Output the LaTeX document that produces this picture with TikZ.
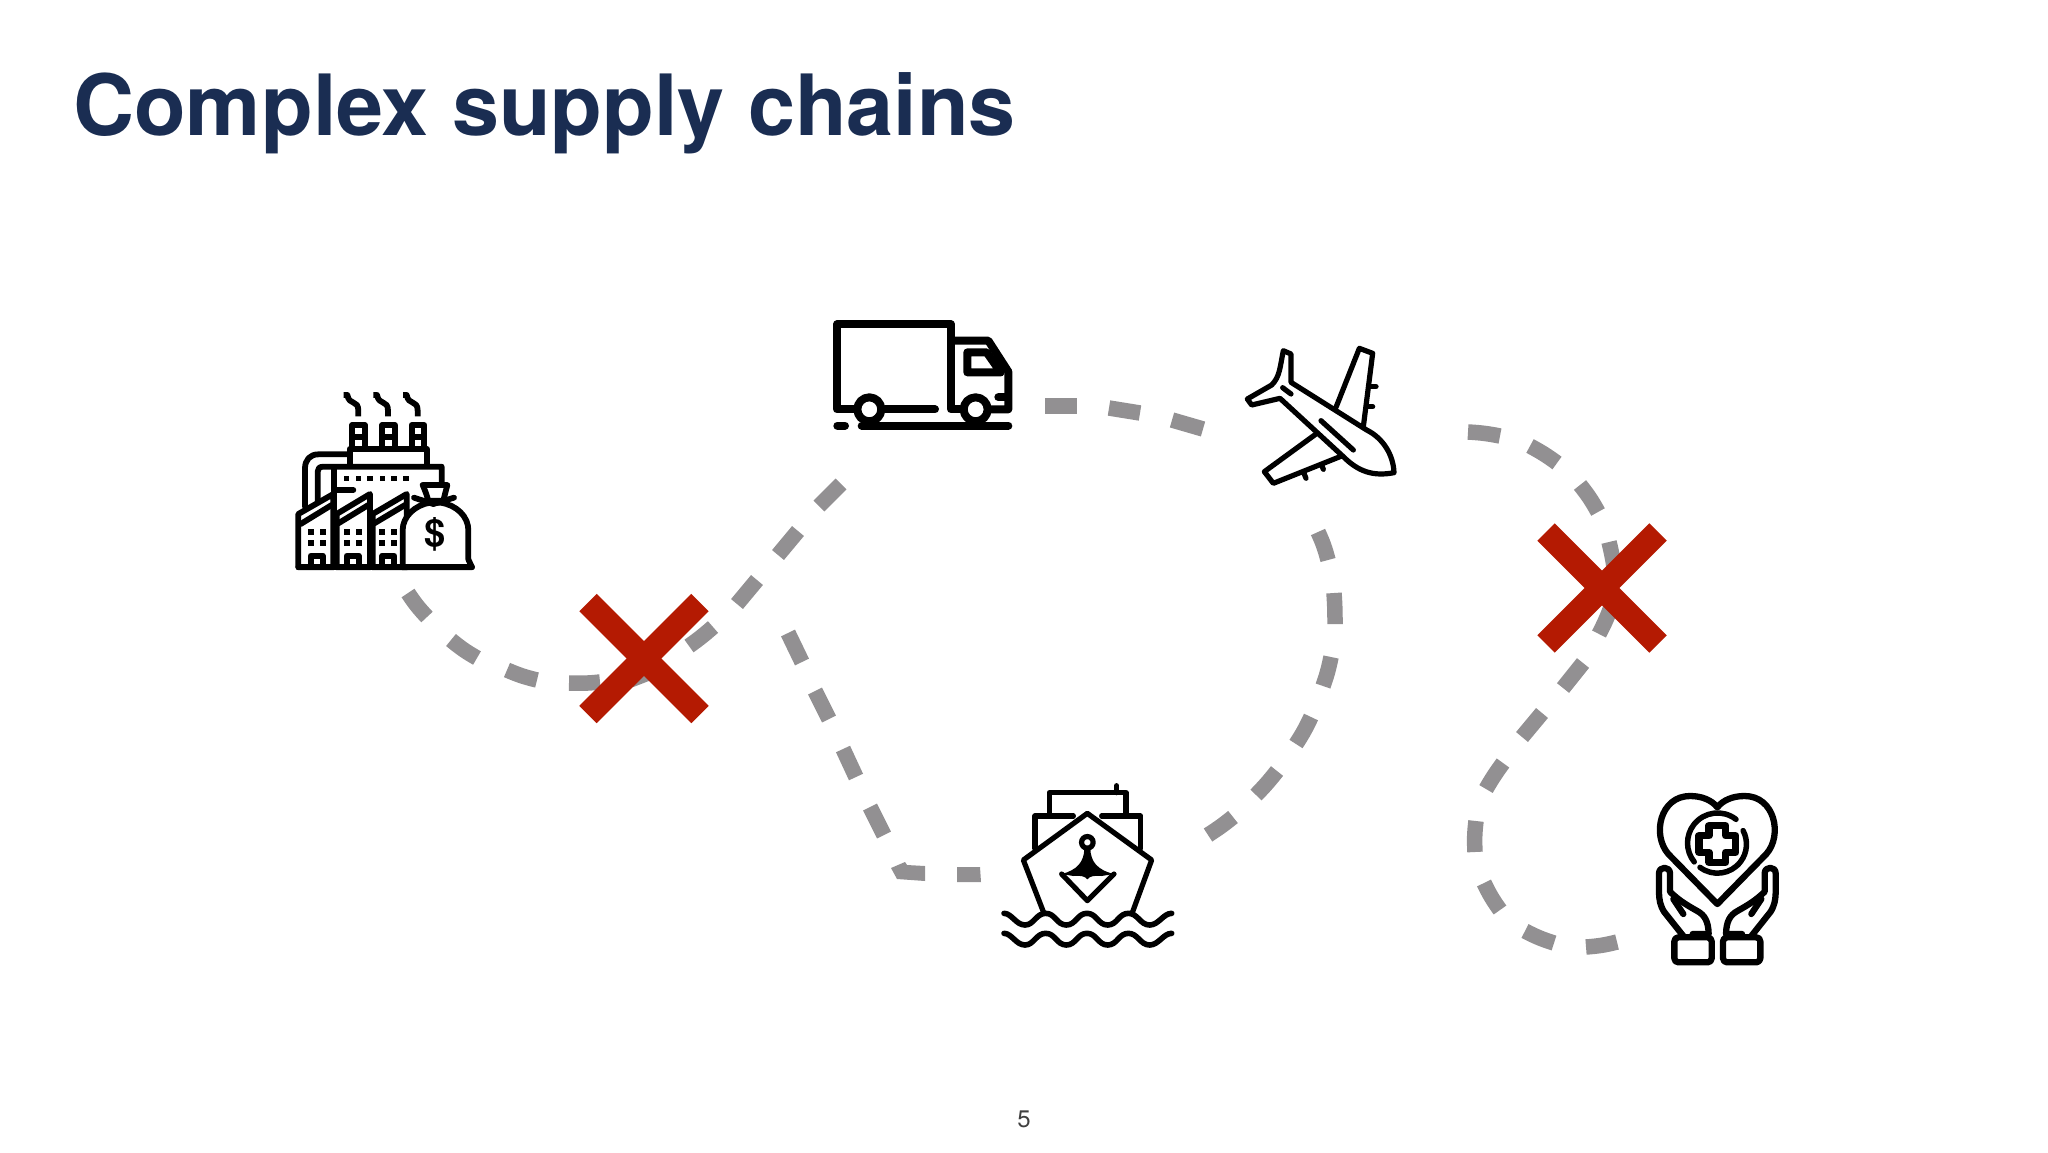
\documentclass[tikz,border=0pt]{standalone}
\usepackage{fontspec}
\setmainfont{TeX Gyre Heros}
\definecolor{navy}{HTML}{1A2D52}
\definecolor{dashgrey}{HTML}{929092}
\definecolor{crossred}{HTML}{B41A02}
\definecolor{pagegrey}{HTML}{404040}
\tikzset{
  gdash/.style={draw=dashgrey,line width=15.5pt,line cap=butt},
  redx/.style={draw=crossred,line width=24.7pt,line cap=butt},
  zoomed/.style={x=0.33333pt,y=-0.33333pt},
  icon/.style={draw=black,line join=round,line cap=round},
}
\begin{document}
\begin{tikzpicture}[x=1pt,y=-1pt]
\useasboundingbox (0,0) rectangle (2048,1152);
\fill[white] (0,0) rectangle (2048,1152);
\node[anchor=base west,inner sep=0pt,text=navy,font=\fontsize{84.5}{84.5}\selectfont\bfseries] (title) at (73,135) {Complex supply chains};
\node[text=pagegrey,font=\fontsize{24}{24}\selectfont,inner sep=0pt] (pagenum) at (1024,1119) {5};

% --- dashes: factory to truck
\draw[gdash] (408,593) to[bend right=5] (427,617);
\draw[gdash] (451,640) to[bend right=5] (477,658);
\draw[gdash] (507,670) to[bend right=5] (537,680);
\draw[gdash] (569,683) to[bend right=4] (600,682);
\draw[gdash] (630,680) -- (661,668);
\draw[gdash] (689,646) to[bend right=3] (713,627);
\draw[gdash] (737,604) -- (757,580);
\draw[gdash] (778,555) -- (798,531);
\draw[gdash] (819,506) -- (841,484);
% truck to plane
\draw[gdash] (1045,406) -- (1077,406);
\draw[gdash] (1109,408) -- (1140,413);
\draw[gdash] (1172,420) -- (1203,429);
% truck area to ship
\draw[gdash] (788,633) -- (802,662);
\draw[gdash] (815,691) -- (829,719);
\draw[gdash] (843,749) -- (856,777);
\draw[gdash] (870,807) -- (884,835);
\fill[dashgrey] (891,868) -- (905,862) -- (907,865) -- (925,866) -- (925,881) -- (897,879) -- cycle;
\fill[dashgrey] (957,867) -- (980,867) -- (981,882) -- (957,882) -- cycle;
% plane to ship
\draw[gdash] (1318,532) to[bend left=5] (1328,560);
\draw[gdash] (1334,593) to[bend left=2] (1335,624);
\draw[gdash] (1331,657) to[bend left=4] (1323,686);
\draw[gdash] (1311,717) to[bend left=4] (1296,744);
\draw[gdash] (1277,771) to[bend left=3] (1256,795);
\draw[gdash] (1233,817) to[bend left=3] (1208,835);
% plane to health
\draw[gdash] (1468,432) to[bend left=4] (1500,436);
\draw[gdash] (1530,446) to[bend left=4] (1557,463);
\draw[gdash] (1580,485) to[bend left=5] (1598,512);
\draw[gdash] (1609,542) to[bend left=3] (1615,574);
\draw[gdash] (1612,604) to[bend left=4] (1599,634);
\draw[gdash] (1583,663) -- (1563,688);
\draw[gdash] (1542,713) -- (1522,737);
\draw[gdash] (1503,763) to[bend right=3] (1486,789);
\draw[gdash] (1476,821) to[bend right=5] (1475,852);
\draw[gdash] (1484,883) to[bend right=5] (1500,910);
\draw[gdash] (1525,931) to[bend right=5] (1554,943);
\draw[gdash] (1586,947) to[bend right=5] (1617,942);

% --- red crosses
\draw[redx] (588,602.5) -- (700,714.5);
\draw[redx] (700,602.5) -- (588,714.5);
\draw[redx] (1546,532) -- (1658,644);
\draw[redx] (1658,532) -- (1546,644);

% --- factory
\begin{scope}[shift={(270,370)},zoomed,icon,line width=5.8pt]
  \foreach \dx in {0,89,178}{
    \begin{scope}[xshift=\dx*0.33333pt]
      \draw[line cap=butt] (221,75) -- (232,75) .. controls (238,108) and (265,88) .. (265,122) -- (265,139);
      \draw[line cap=butt,line join=round] (247,235) -- (247,165) -- (285,165) -- (285,235);
      \draw[line cap=butt] (247,200) -- (285,200);
    \end{scope}
  }
  \draw (239,285) -- (239,237) -- (470,237) -- (470,285);
  \draw (239,253) -- (145,253) .. controls (120,253) and (105,270) .. (105,295) -- (105,410);
  \draw (515,340) -- (515,290) -- (160,290) .. controls (148,290) and (143,296) .. (143,305) -- (143,395);
  \draw (193,292) -- (193,590);
  \draw (200,360) -- (250,360);
  \foreach \px in {230,265,300,337,372,408}
    \fill (\px-8,317) rectangle (\px+8,333);
  % saw-tooth buildings
  \draw[fill=white] (85,592) -- (85,432) -- (190,372) -- (190,592) -- cycle;
  \draw[fill=white] (200,592) -- (200,432) -- (300,372) -- (300,592) -- cycle;
  \draw[fill=white] (308,592) -- (308,432) -- (410,372) -- (410,592) -- cycle;
  \draw (92,462) -- (185,405);
  \draw (205,460) -- (295,405);
  \draw (313,460) -- (405,405);
  \foreach \bx in {122,230,337}{
    \foreach \wy in {485,520}{
      \fill (\bx-9,\wy-9) rectangle (\bx+9,\wy+9);
      \fill (\bx+27,\wy-9) rectangle (\bx+45,\wy+9);
    }
    \draw[line cap=butt] (\bx,592) -- (\bx,557) -- (\bx+36,557) -- (\bx+36,592);
  }
  % money bag
  \draw[fill=white] (398,592) -- (398,480) .. controls (398,440) and (435,405) .. (480,398)
     -- (512,398) .. controls (560,405) and (595,440) .. (595,480) -- (595,568) -- (606,592) -- cycle;
  \draw[fill=white] (458,345) -- (532,345) -- (520,392) -- (475,392) .. controls (470,375) and (465,360) .. (458,345);
  \draw (432,383) -- (490,402) -- (552,383);
  \draw (85,592) -- (606,592);
  \node[inner sep=0pt,font=\fontsize{38}{38}\selectfont\bfseries] (dollar) at (495,494) {\$};
\end{scope}

% --- truck
\begin{scope}[shift={(810,300)},zoomed,icon,line width=8pt]
  \draw (135,328) -- (81,328) -- (81,73) -- (423,73) -- (423,328) -- (450,328);
  \draw (225,328) -- (375,328);
  \draw (423,122) -- (535,122) -- (595,215) -- (595,328) -- (540,328);
  \draw (472,157) -- (530,157) -- (572,217) -- (472,217) -- cycle;
  \draw (565,292) -- (590,292);
  \draw (178,328) circle [radius=12pt];
  \draw (497,328) circle [radius=12pt];
  \draw (82,377) -- (105,377);
  \draw (155,377) -- (595,377);
\end{scope}

% --- plane
\begin{scope}[shift={(1230,330)},zoomed,icon,line width=5.2pt]
  \draw (318,232) -- (388,55) -- (428,70) -- (400,290);
  \draw (258,312) -- (103,425) -- (130,460) -- (335,378);
  \draw (160,62) -- (183,72) -- (183,157) -- (410,300)
     .. controls (460,325) and (490,375) .. (492,428)
     .. controls (430,440) and (385,425) .. (340,380)
     -- (150,205) -- (65,225) -- (52,207) -- (125,165)
     .. controls (150,140) and (150,110) .. (160,62) -- cycle;
  \draw (425,170) -- (438,170);
  \draw (415,230) -- (428,230);
  \draw (222,430) -- (228,445);
  \draw (275,405) -- (280,418);
  \draw (158,173) -- (183,192);
  \draw (273,272) -- (370,360);
\end{scope}

% --- ship
\begin{scope}[shift={(990,770)},zoomed,icon,line width=5.2pt]
  \draw (178,135) -- (178,68) -- (408,68) -- (408,135);
  \draw (380,47) -- (380,68);
  \draw (135,235) -- (135,138) -- (250,138);
  \draw (335,138) -- (452,138) -- (452,235);
  \draw (160,425) -- (100,270) -- (292,130) -- (485,270) -- (428,425);
  \draw (292,217) circle [radius=5.8pt];
  \fill (283,236) .. controls (282,275) and (262,300) .. (215,312) -- (250,318) .. controls (270,316) and (285,318) .. (292,328)
     .. controls (299,318) and (314,316) .. (334,318) -- (372,312) .. controls (322,300) and (302,275) .. (301,236) -- cycle;
  \draw (215,312) -- (292,392) -- (372,312);
  \foreach \wy in {430,490}{
    \draw[line width=5.6pt] (42,\wy) .. controls (65,\wy) and (78,\wy+35) .. (105,\wy+35)
      .. controls (132,\wy+35) and (138,\wy) .. (167,\wy)
      .. controls (196,\wy) and (200,\wy+35) .. (229,\wy+35)
      .. controls (258,\wy+35) and (262,\wy) .. (291,\wy)
      .. controls (320,\wy) and (324,\wy+35) .. (353,\wy+35)
      .. controls (382,\wy+35) and (386,\wy) .. (415,\wy)
      .. controls (444,\wy) and (450,\wy+35) .. (479,\wy+35)
      .. controls (506,\wy+35) and (520,\wy) .. (545,\wy);
  }
\end{scope}

% --- heart and hands
\begin{scope}[shift={(1640,780)},zoomed,icon,line width=6.3pt]
  \draw (232,372) -- (85,222) .. controls (35,165) and (60,48) .. (150,48)
     .. controls (185,48) and (215,60) .. (232,82)
     .. controls (249,60) and (279,48) .. (314,48)
     .. controls (404,48) and (429,165) .. (379,222) -- cycle;
  \draw[line width=5.5pt] (288,118) arc[start angle=52,end angle=219,radius=30pt];
  \draw[line width=5.5pt] (180,262) arc[start angle=233,end angle=388,radius=29pt];
  \draw[line width=7.5pt] (207,137) -- (257,137) -- (257,167) -- (287,167) -- (287,217) -- (257,217)
     -- (257,247) -- (207,247) -- (207,217) -- (177,217) -- (177,167) -- (207,167) -- cycle;
  \foreach \sgn/\off in {1/0,-1/464}{
    \begin{scope}[xshift=\off*0.33333pt,xscale=\sgn]
      \draw (130,468) -- (72,395) .. controls (60,375) and (58,360) .. (57,340) -- (57,280)
        .. controls (57,258) and (90,258) .. (90,280) -- (90,335)
        .. controls (115,360) and (140,375) .. (170,392) .. controls (195,405) and (205,425) .. (206,462) -- (158,462);
      \draw (100,357) -- (130,402);
      \draw[rounded corners=4pt] (103,472) rectangle (215,547);
    \end{scope}
  }
\end{scope}
\end{tikzpicture}
\end{document}
